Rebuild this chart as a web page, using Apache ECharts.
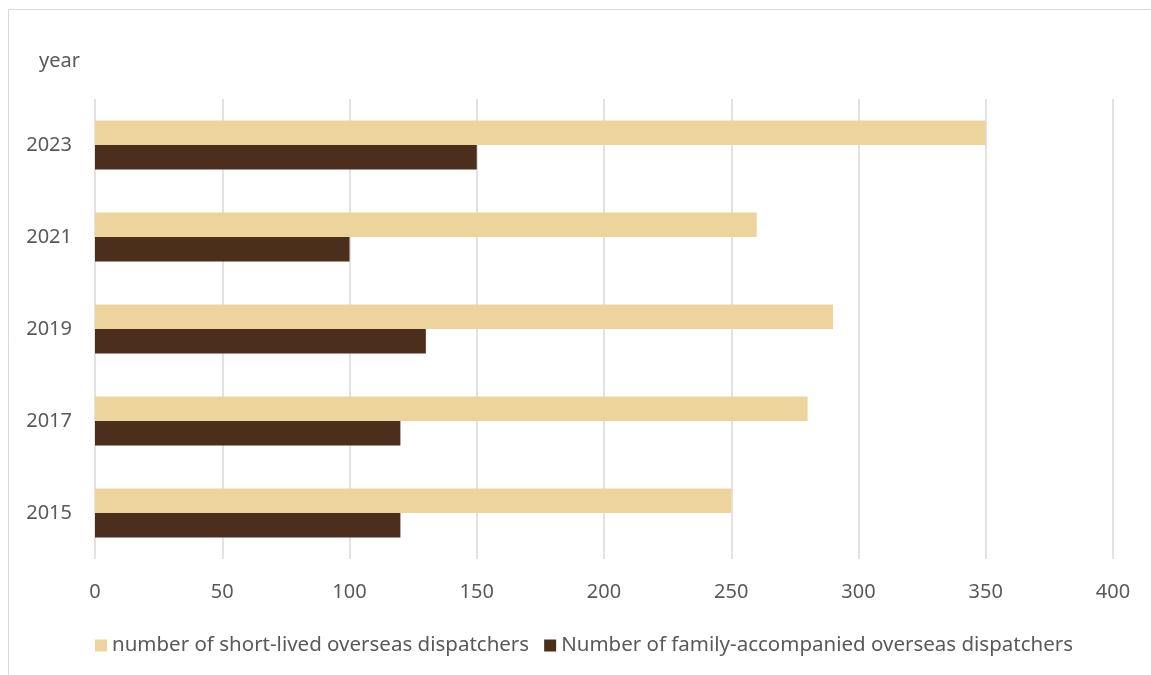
<!DOCTYPE html>
<html>
<head>
<meta charset="utf-8">
<script src="https://cdn.jsdelivr.net/npm/echarts@6/dist/echarts.min.js"></script>
<style>
html,body{margin:0;padding:0;background:#fff;}
#chart{width:1151px;height:675px;}
</style>
</head>
<body>
<div id="chart"></div>
<script>
const categories = ['2015', '2017', '2019', '2021', '2023'];
const shortLived = [250, 280, 290, 260, 350];
const familyAccompanied = [120, 120, 130, 100, 150];
const xTicks = [0, 50, 100, 150, 200, 250, 300, 350, 400];
const shortName = 'number of short-lived overseas dispatchers';
const familyName = 'Number of family-accompanied overseas dispatchers';

const chart = echarts.init(document.getElementById('chart'));
const font = '"Noto Sans", sans-serif';
chart.setOption({
  animation: false,
  textStyle: { fontFamily: font },
  graphic: [
    { type: 'rect', shape: { x: 8.5, y: 9.5, width: 1300, height: 800 }, style: { fill: 'none', stroke: '#d9d9d9', lineWidth: 1 }, silent: true },
    { type: 'text', x: 39, y: 61, style: { text: 'year', fontSize: 20, fill: '#595959', fontFamily: font, verticalAlign: 'middle' } }
  ],
  legend: {
    left: 90, top: 630,
    itemWidth: 12, itemHeight: 12, itemGap: 15,
    icon: 'rect',
    data: [shortName, familyName],
    textStyle: { fontSize: 20.5, color: '#595959', fontFamily: font }
  },
  grid: { left: 95, right: 38, top: 99, bottom: 116, containLabel: false },
  xAxis: {
    type: 'value', min: xTicks[0], max: xTicks[xTicks.length - 1], interval: 50,
    axisLine: { show: false }, axisTick: { show: false },
    splitLine: { show: true, lineStyle: { color: '#d9d9d9', width: 1.5 } },
    axisLabel: { fontSize: 20, color: '#595959', margin: 23, fontFamily: font }
  },
  yAxis: {
    type: 'category', data: categories,
    axisLine: { show: false }, axisTick: { show: false },
    axisLabel: { fontSize: 20, color: '#595959', margin: 23, fontFamily: font }
  },
  series: [
    { name: shortName, type: 'bar', data: shortLived, barWidth: 24.5, barGap: '0%',
      itemStyle: { color: '#edd49d' } },
    { name: familyName, type: 'bar', data: familyAccompanied, barWidth: 24.5, barGap: '0%',
      itemStyle: { color: '#4c2e1d' } }
  ]
});
</script>
</body>
</html>
